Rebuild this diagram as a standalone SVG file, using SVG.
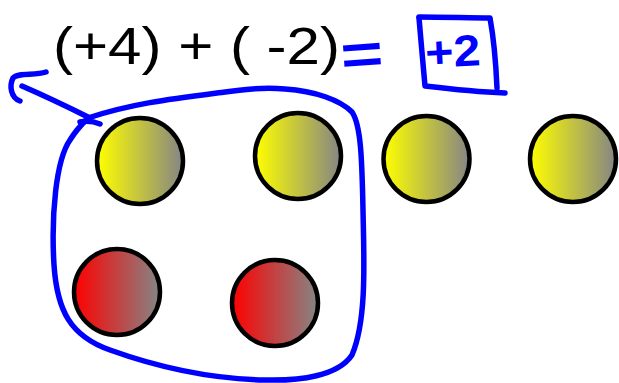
<svg xmlns="http://www.w3.org/2000/svg" width="619" height="383" viewBox="0 0 619 383">
  <defs>
    <linearGradient id="gy" x1="0" y1="0" x2="1" y2="0">
      <stop offset="0" stop-color="#ffff00"/>
      <stop offset="1" stop-color="#858585"/>
    </linearGradient>
    <linearGradient id="gr" x1="0" y1="0" x2="1" y2="0">
      <stop offset="0" stop-color="#ff0000"/>
      <stop offset="1" stop-color="#858585"/>
    </linearGradient>
    <style>
      .y { fill: url(#gy); stroke: #000; stroke-width: 4.5; }
      .r { fill: url(#gr); stroke: #000; stroke-width: 4.5; }
      .ink { fill: none; stroke: #0000ff; stroke-width: 5.5; stroke-linecap: round; stroke-linejoin: round; }
      .eq { font-family: "Liberation Sans", Arial, sans-serif; fill: #000; }
      .hand { font-family: "Liberation Sans", Arial, sans-serif; font-weight: bold; fill: #0000ff; }
    </style>
  </defs>
  <rect width="619" height="383" fill="#fff"/>

  <g id="equation">
    <text class="eq" x="53" y="64" font-size="51" textLength="287" lengthAdjust="spacingAndGlyphs">(+4) + ( -2)</text>
    <text class="hand" transform="translate(342,75) rotate(-4) scale(1.35,1.05)" font-size="54">=</text>
    <text class="hand" transform="translate(426,68) rotate(-3) scale(1.1,1)" font-size="44">+2</text>
  </g>

  <g id="yellow1"><circle class="y" cx="140" cy="161" r="43"/></g>
  <g id="yellow2"><circle class="y" cx="298" cy="156" r="43"/></g>
  <g id="yellow3"><circle class="y" cx="426.5" cy="159" r="43"/></g>
  <g id="yellow4"><circle class="y" cx="573" cy="159" r="43"/></g>
  <g id="red1"><circle class="r" cx="117" cy="292" r="43"/></g>
  <g id="red2"><circle class="r" cx="275" cy="303" r="43"/></g>

  <g id="connectors">
    <path class="ink" d="M 88 118 C 130 104, 170 99, 217 93 C 240 90, 260 87, 285 89 C 315 91, 340 100, 352 112 C 361 125, 362 160, 363 210 C 364 260, 367 320, 352 355 C 338 376, 300 381, 265 380 C 215 379, 160 368, 110 350 C 70 336, 57 310, 54 265 C 51 215, 56 160, 70 140 C 76 130, 82 124, 88 118"/>
    <path class="ink" d="M 80 122 Q 90 120 100 124"/>
    <path class="ink" d="M 22 86 C 45 96, 70 108, 90 118"/>
    <path class="ink" d="M 46 72 C 35 76, 18 72, 13 78 C 9 86, 11 98, 20 101"/>
    <path class="ink" d="M 419 17 C 445 17, 470 18, 490 18 C 494 40, 496 65, 497 88"/>
    <path class="ink" d="M 419 18 C 421 40, 423 65, 425 86 C 450 89, 480 92, 505 93"/>
  </g>
</svg>
